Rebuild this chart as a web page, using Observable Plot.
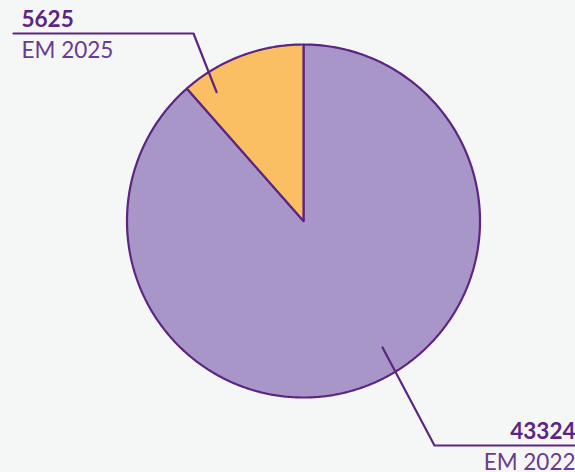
<!DOCTYPE html>
<html>
<head>
<meta charset="utf-8">
<script src="https://cdn.jsdelivr.net/npm/d3@7"></script>
<script src="https://cdn.jsdelivr.net/npm/@observablehq/plot@0.6"></script>
<style>
  html, body { margin: 0; padding: 0; background: #f5f7f6; }
  #chart svg { display: block; background: #f5f7f6; }
</style>
</head>
<body>
<div id="chart"></div>
<script>
// ---- data ----
const categories = ["EM 2022", "EM 2025"];
const values = [43324, 5625];
const valueLabels = ["43324", "5625"];
const fills = ["#a996c9", "#fbbf63"];

// ---- layout ----
const W = 575, H = 472;
const cx = 303, cy = 220.5, R = 176.5;
const ink = "#5c2483";
const leaders = [
  {angle: 148, rf: 0.845, elbow: [434, 445], end: [575, 445], anchor: "end", tx: 575},
  {angle: -34, rf: 0.88, elbow: [193, 33], end: [13, 33], anchor: "start", tx: 21}
];

const pie = d3.pie().sort(null).startAngle(0).endAngle(2 * Math.PI)(values);
const pt = (a, r) => [cx + r * Math.sin(a), cy - r * Math.cos(a)];

const slicePts = [];
pie.forEach((s, i) => {
  slicePts.push({k: i, p: [cx, cy]});
  const n = Math.max(2, Math.ceil((s.endAngle - s.startAngle) / 0.01));
  for (let j = 0; j <= n; j++) {
    const a = s.startAngle + (s.endAngle - s.startAngle) * j / n;
    slicePts.push({k: i, p: pt(a, R)});
  }
  slicePts.push({k: i, p: [cx, cy]});
});

const leaderPts = [];
leaders.forEach((l, i) => {
  leaderPts.push({k: i, p: pt(l.angle * Math.PI / 180, R * l.rf)});
  leaderPts.push({k: i, p: l.elbow});
  leaderPts.push({k: i, p: l.end});
});

const labels = categories.map((c, i) => ({
  cat: c, val: valueLabels[i], x: leaders[i].tx, y: leaders[i].elbow[1], anchor: leaders[i].anchor
}));

const textMarks = labels.flatMap(l => [
  Plot.text([l], {x: "x", y: d => d.y - 7, text: "val", textAnchor: l.anchor, lineAnchor: "bottom",
    fontSize: 22.5, fontWeight: 700, fill: ink, fontFamily: "Lato"}),
  Plot.text([l], {x: "x", y: d => d.y + 24, text: "cat", textAnchor: l.anchor, lineAnchor: "bottom",
    fontSize: 22.5, fontWeight: 400, fill: "#6a3a92", fontFamily: "Lato"})
]);

const chart = Plot.plot({
  width: W, height: H,
  margin: 0,
  x: {domain: [0, W], axis: null},
  y: {domain: [H, 0], axis: null},
  style: {background: "#f5f7f6", fontFamily: "Lato, sans-serif"},
  marks: [
    ...pie.map((s, i) => Plot.line(slicePts.filter(d => d.k === i), {
      x: d => d.p[0], y: d => d.p[1], fill: fills[i], stroke: ink, strokeWidth: 2.2, strokeLinejoin: "miter"
    })),
    Plot.line(leaderPts, {x: d => d.p[0], y: d => d.p[1], z: "k", stroke: ink, strokeWidth: 2.2}),
    ...textMarks
  ]
});
document.getElementById("chart").appendChild(chart);
</script>
</body>
</html>
